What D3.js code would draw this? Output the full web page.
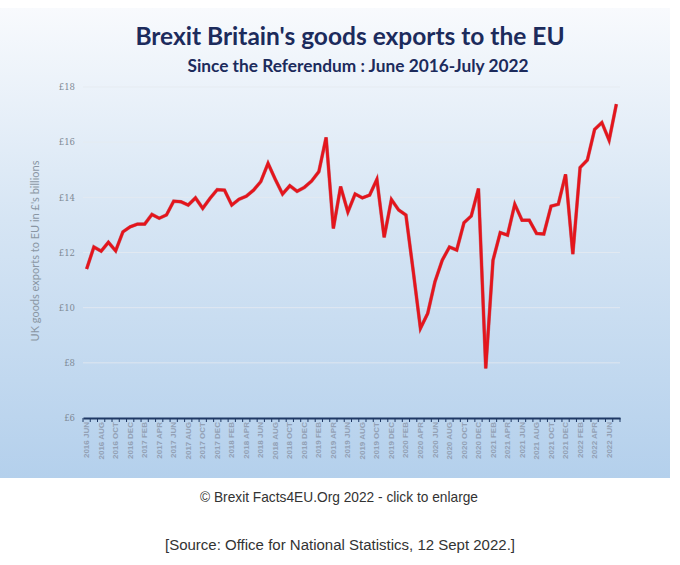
<!DOCTYPE html>
<html><head><meta charset="utf-8">
<script src="https://cdn.jsdelivr.net/npm/d3@7"></script>
<style>html,body{margin:0;padding:0;background:#fff;}svg{display:block;}</style>
</head><body>
<svg id="c" width="680" height="565"></svg>
<script>
const categories = [
"2016 JUN","2016 JUL","2016 AUG","2016 SEP","2016 OCT","2016 NOV","2016 DEC",
"2017 JAN","2017 FEB","2017 MAR","2017 APR","2017 MAY","2017 JUN","2017 JUL","2017 AUG","2017 SEP","2017 OCT","2017 NOV","2017 DEC",
"2018 JAN","2018 FEB","2018 MAR","2018 APR","2018 MAY","2018 JUN","2018 JUL","2018 AUG","2018 SEP","2018 OCT","2018 NOV","2018 DEC",
"2019 JAN","2019 FEB","2019 MAR","2019 APR","2019 MAY","2019 JUN","2019 JUL","2019 AUG","2019 SEP","2019 OCT","2019 NOV","2019 DEC",
"2020 JAN","2020 FEB","2020 MAR","2020 APR","2020 MAY","2020 JUN","2020 JUL","2020 AUG","2020 SEP","2020 OCT","2020 NOV","2020 DEC",
"2021 JAN","2021 FEB","2021 MAR","2021 APR","2021 MAY","2021 JUN","2021 JUL","2021 AUG","2021 SEP","2021 OCT","2021 NOV","2021 DEC",
"2022 JAN","2022 FEB","2022 MAR","2022 APR","2022 MAY","2022 JUN","2022 JUL"];
const exportsEU = [
11.40,12.20,12.05,12.37,12.06,12.75,12.93,
13.03,13.03,13.38,13.24,13.36,13.86,13.84,13.72,13.98,13.60,13.96,14.28,
14.26,13.72,13.93,14.04,14.26,14.57,15.23,14.65,14.12,14.42,14.22,14.36,
14.59,14.93,16.17,12.87,14.39,13.47,14.12,13.98,14.08,14.65,12.55,13.92,
13.54,13.36,11.34,9.25,9.79,10.94,11.72,12.20,12.09,13.08,13.32,14.32,
7.80,11.72,12.72,12.63,13.75,13.17,13.17,12.69,12.67,13.68,13.75,14.83,
11.94,15.08,15.35,16.46,16.71,16.07,17.38];
const xTickLabels = categories.filter((d,i)=> i % 2 === 0);
const yTicks = [6,8,10,12,14,16,18];
const titleText = "Brexit Britain's goods exports to the EU";
const subtitleText = "Since the Referendum : June 2016-July 2022";
const yAxisTitle = "UK goods exports to EU in £'s billions";
const footer1 = "© Brexit Facts4EU.Org 2022 - click to enlarge";
const footer2 = "[Source: Office for National Statistics, 12 Sept 2022.]";

const svg = d3.select("#c");
const defs = svg.append("defs");
const grad = defs.append("linearGradient").attr("id","bg").attr("x1",0).attr("y1",0).attr("x2",0).attr("y2",1);
grad.append("stop").attr("offset","0%").attr("stop-color","#f8fafd");
grad.append("stop").attr("offset","45%").attr("stop-color","#d6e5f4");
grad.append("stop").attr("offset","100%").attr("stop-color","#b4d0ec");

svg.append("rect").attr("x",0).attr("y",8).attr("width",670).attr("height",470).attr("fill","url(#bg)");

const x = d3.scaleBand().domain(categories).range([83,620]).padding(0);
const y = d3.scaleLinear().domain([6,18]).range([418,87]);

// gridlines
svg.append("g").selectAll("line").data(yTicks.filter(d=>d>6)).join("line")
  .attr("x1",83).attr("x2",620).attr("y1",d=>y(d)).attr("y2",d=>y(d))
  .attr("stroke","#e6ebf1").attr("stroke-width",1).attr("opacity",0.8);

// y axis labels
const yAxis = d3.axisLeft(y).tickValues(yTicks).tickFormat(d=>"£"+d).tickSize(0).tickPadding(0);
const gy = svg.append("g").attr("transform","translate(75,0)").call(yAxis);
gy.select(".domain").remove();
gy.selectAll("text").attr("fill","#7f8a96").attr("font-family","'DejaVu Serif', serif").attr("font-size",8.5);

// y axis title
svg.append("text").attr("transform","translate(39,251) rotate(-90)")
  .attr("text-anchor","middle").attr("font-family","Lato, 'Open Sans', sans-serif").attr("font-size",11)
  .attr("fill","#8a96a3").text(yAxisTitle);

// x axis
const xAxis = d3.axisBottom(x).tickValues(xTickLabels).tickSize(0).tickPadding(0);
const gx = svg.append("g").attr("transform","translate(0,418)").call(xAxis);
gx.select(".domain").attr("stroke","#1f3864").attr("stroke-width",2);
gx.selectAll("text")
  .attr("transform","rotate(-90)")
  .attr("text-anchor","end").attr("dx","-4").attr("dy","0.32em").attr("x",0).attr("y",0)
  .attr("font-family","'Liberation Sans', Arial, sans-serif").attr("font-size",8).attr("font-weight","bold")
  .attr("fill","#93a1b5");
// month minor ticks
const tickPos = categories.map(c=>x(c)).concat([x.range()[1]]);
svg.append("g").selectAll("line").data(tickPos).join("line")
  .attr("x1",d=>d).attr("x2",d=>d).attr("y1",418).attr("y2",422)
  .attr("stroke","#1f3864").attr("stroke-width",1);

// line
const line = d3.line().x((d,i)=>x(categories[i])+x.bandwidth()/2).y(d=>y(d)).curve(d3.curveLinear);
svg.append("path").datum(exportsEU).attr("d",line).attr("fill","none")
  .attr("stroke","#b5121b").attr("stroke-width",3.6).attr("stroke-linejoin","miter").attr("opacity",0.5);
svg.append("path").datum(exportsEU).attr("d",line).attr("fill","none")
  .attr("stroke","#e4151c").attr("stroke-width",2.8).attr("stroke-linejoin","miter");

// titles
svg.append("text").attr("x",350).attr("y",45).attr("text-anchor","middle")
  .attr("font-family","Lato, 'Open Sans', sans-serif").attr("font-weight","bold").attr("font-size",24.5)
  .attr("fill","#1c2b5c").text(titleText);
svg.append("text").attr("x",358).attr("y",72).attr("text-anchor","middle")
  .attr("font-family","Lato, 'Open Sans', sans-serif").attr("font-weight","bold").attr("font-size",17.3)
  .attr("fill","#1c2b5c").text(subtitleText);

// footers
svg.append("text").attr("x",339).attr("y",502).attr("text-anchor","middle")
  .attr("font-family","'Liberation Sans Narrow', 'Liberation Sans', Arial, sans-serif").attr("font-size",15)
  .attr("textLength",278).attr("lengthAdjust","spacingAndGlyphs")
  .attr("fill","#333").text(footer1);
svg.append("text").attr("x",340).attr("y",550).attr("text-anchor","middle")
  .attr("font-family","'Liberation Sans Narrow', 'Liberation Sans', Arial, sans-serif").attr("font-size",15.5)
  .attr("textLength",350).attr("lengthAdjust","spacingAndGlyphs")
  .attr("fill","#333").text(footer2);
</script>
</body></html>
